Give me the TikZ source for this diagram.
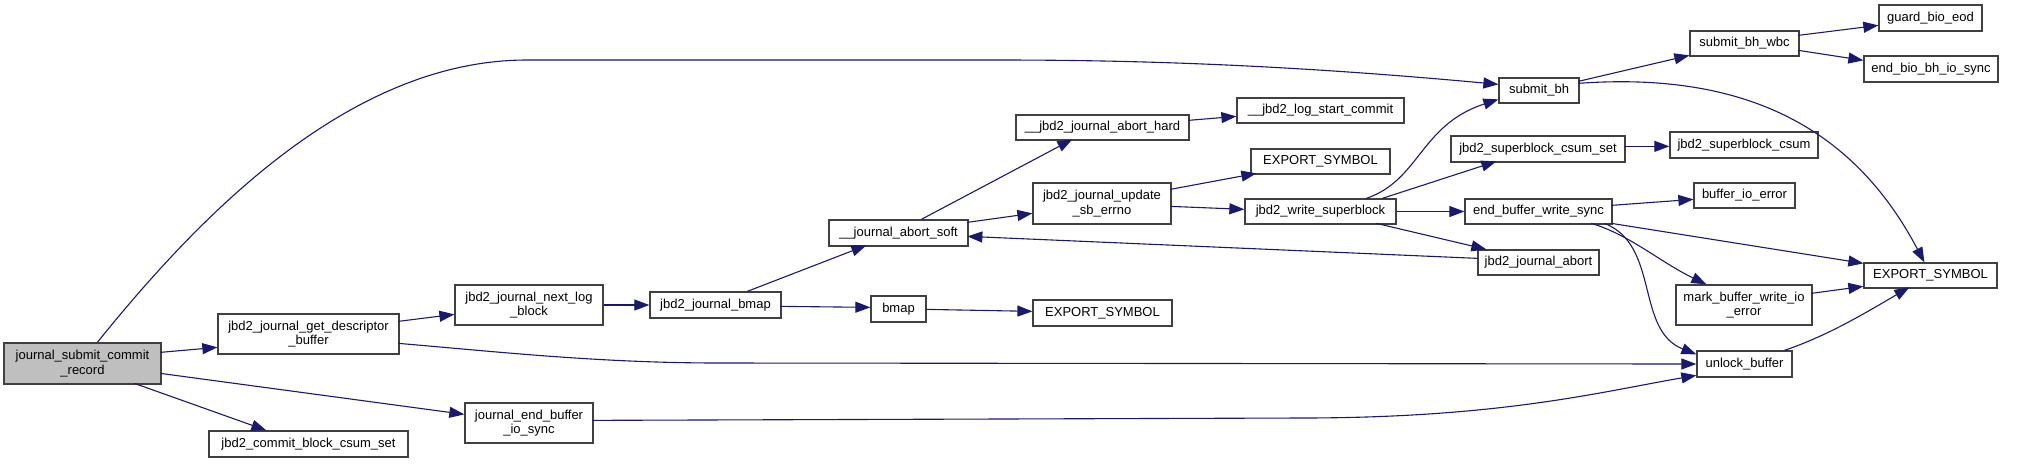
\documentclass[tikz,border=0pt]{standalone}
\usepackage{fontspec}
\setmainfont{Liberation Sans}
\usetikzlibrary{arrows.meta,calc}
\definecolor{edgec}{HTML}{191970}
\definecolor{boxc}{HTML}{404040}
\definecolor{mainfill}{HTML}{BFBFBF}
\tikzset{
 box/.style={draw=boxc, line width=0.65pt, fill=white, inner sep=0pt, align=center, font=\fontsize{6.5}{7.3}\selectfont},
 edge/.style={draw=edgec, line width=0.55pt, -{Triangle[length=7.5pt,width=5.5pt]}},
}
\newcommand\bx[7][]{\node[box,#1,minimum width={(#5-#3)*0.5pt},minimum height={(#6-#4)*0.5pt}] (#2) at ({(#3+#5)/2},{(#4+#6)/2}) {#7};}
\begin{document}
\begin{tikzpicture}[x=0.5pt,y=-0.5pt]
\useasboundingbox (0,0) rectangle (2028,463);
\bx[fill=mainfill]{jsc}{4}{343}{161}{384}{journal\_submit\_commit\\\_record}
\bx{desc}{218}{314}{399}{354}{jbd2\_journal\_get\_descriptor\\\_buffer}
\bx{ccs}{209}{431}{408}{457}{jbd2\_commit\_block\_csum\_set}
\bx{jebis}{465}{403}{593}{443}{journal\_end\_buffer\\\_io\_sync}
\bx{nlb}{455}{285}{603}{325}{jbd2\_journal\_next\_log\\\_block}
\bx{jbmap}{650}{292}{781}{318}{jbd2\_journal\_bmap}
\bx{jas}{829}{220}{968}{246}{\_\_journal\_abort\_soft}
\bx{bmap}{871}{296}{926}{322}{bmap}
\bx{esb}{1033}{300}{1172}{326}{EXPORT\_SYMBOL}
\bx{jah}{1016}{115}{1189}{140}{\_\_jbd2\_journal\_abort\_hard}
\bx{jusb}{1033}{183}{1171}{224}{jbd2\_journal\_update\\\_sb\_errno}
\bx{lsc}{1237}{98}{1404}{123}{\_\_jbd2\_log\_start\_commit}
\bx{esa}{1251}{149}{1390}{174}{EXPORT\_SYMBOL}
\bx{jws}{1245}{199}{1396}{224}{jbd2\_write\_superblock}
\bx{sbh}{1499}{78}{1579}{103}{submit\_bh}
\bx{scsset}{1451}{136}{1625}{162}{jbd2\_superblock\_csum\_set}
\bx{ebws}{1465}{199}{1612}{224}{end\_buffer\_write\_sync}
\bx{jja}{1478}{250}{1599}{275}{jbd2\_journal\_abort}
\bx{wbc}{1690}{31}{1799}{56}{submit\_bh\_wbc}
\bx{scs}{1670}{132}{1818}{158}{jbd2\_superblock\_csum}
\bx{bie}{1694}{183}{1795}{208}{buffer\_io\_error}
\bx{mbwie}{1676}{285}{1812}{325}{mark\_buffer\_write\_io\\\_error}
\bx{ub}{1697}{351}{1792}{377}{unlock\_buffer}
\bx{gbe}{1879}{5}{1982}{31}{guard\_bio\_eod}
\bx{ebbis}{1864}{56}{1998}{82}{end\_bio\_bh\_io\_sync}
\bx{esc}{1864}{263}{1997}{288}{EXPORT\_SYMBOL}
% edges
\draw[edge] ($(jsc.north west)+(94,0)$) .. controls (200,215) and (350,60) .. (527,60) -- (1000,60) .. controls (1150,60) and (1300,66) .. ($(sbh.north west)+(0,7)$);
\draw[edge] ($(jsc.north west)+(157,10)$) -- ($(desc.north west)+(0,34)$);
\draw[edge] ($(jsc.north west)+(131,41)$) -- ($(ccs.north west)+(58,0)$);
\draw[edge] ($(jsc.north west)+(157,31)$) -- ($(jebis.north west)+(0,12)$);
\draw[edge] ($(desc.north west)+(181,8)$) -- ($(nlb.north west)+(0,30)$);
\draw[edge] ($(desc.north west)+(181,30)$) .. controls (500,352) and (600,363) .. (720,363) -- (ub.west);
\draw[edge] (nlb.east) -- (jbmap.west);
\draw[edge] ($(jbmap.north west)+(98,0)$) -- ($(jas.north west)+(38,26)$);
\draw[edge] ($(jbmap.north west)+(131,15)$) -- ($(bmap.north west)+(0,12)$);
\draw[edge] ($(bmap.north west)+(55,14)$) -- ($(esb.north west)+(0,12)$);
\draw[edge] ($(jas.north west)+(93,0)$) -- ($(jah.north west)+(57,25)$);
\draw[edge] ($(jas.north west)+(139,3)$) -- ($(jusb.north west)+(0,31)$);
\draw[edge] ($(jja.north west)+(0,9)$) -- ($(jas.north west)+(139,17)$);
\draw[edge] ($(jah.north west)+(173,6)$) -- ($(lsc.north west)+(0,19)$);
\draw[edge] ($(jusb.north west)+(138,7)$) -- ($(esa.north west)+(6,25)$);
\draw[edge] ($(jusb.north west)+(138,24)$) -- ($(jws.north west)+(0,11)$);
\draw[edge] ($(jws.north west)+(122,0)$) .. controls (1420,180) and (1420,125) .. ($(sbh.north west)+(0,22)$);
\draw[edge] ($(jws.north west)+(138,0)$) -- ($(scsset.north west)+(46,26)$);
\draw[edge] (jws.east) -- (ebws.west);
\draw[edge] ($(jws.north west)+(132,25)$) -- ($(jja.north west)+(9,0)$);
\draw[edge] ($(sbh.north west)+(80,4)$) -- ($(wbc.north west)+(0,25)$);
\draw[edge] ($(sbh.north west)+(80,6)$) .. controls (1760,70) and (1860,140) .. ($(esc.north west)+(61,0)$);
\draw[edge] ($(wbc.north west)+(109,5)$) -- ($(gbe.north west)+(0,21)$);
\draw[edge] ($(wbc.north west)+(109,20)$) -- ($(ebbis.north west)+(0,5)$);
\draw[edge] ($(scsset.north west)+(174,11)$) -- ($(scs.north west)+(0,15)$);
\draw[edge] ($(ebws.north west)+(147,7)$) -- ($(bie.north west)+(0,17)$);
\draw[edge] ($(ebws.north west)+(147,25)$) -- ($(esc.north west)+(0,1)$);
\draw[edge] ($(ebws.north west)+(127,25)$) .. controls (1630,235) and (1660,262) .. ($(mbwie.north west)+(31,0)$);
\draw[edge] ($(ebws.north west)+(140,25)$) .. controls (1660,245) and (1635,330) .. ($(ub.north west)+(0,4)$);
\draw[edge] ($(mbwie.north west)+(136,9)$) -- ($(esc.north west)+(0,24)$);
\draw[edge] ($(ub.north west)+(88,0)$) .. controls (1830,335) and (1870,310) .. ($(esc.north west)+(46,25)$);
\draw[edge] ($(jebis.north west)+(128,18)$) -- (1300,418) .. controls (1500,418) and (1600,392) .. ($(ub.north west)+(0,25)$);
\end{tikzpicture}
\end{document}
